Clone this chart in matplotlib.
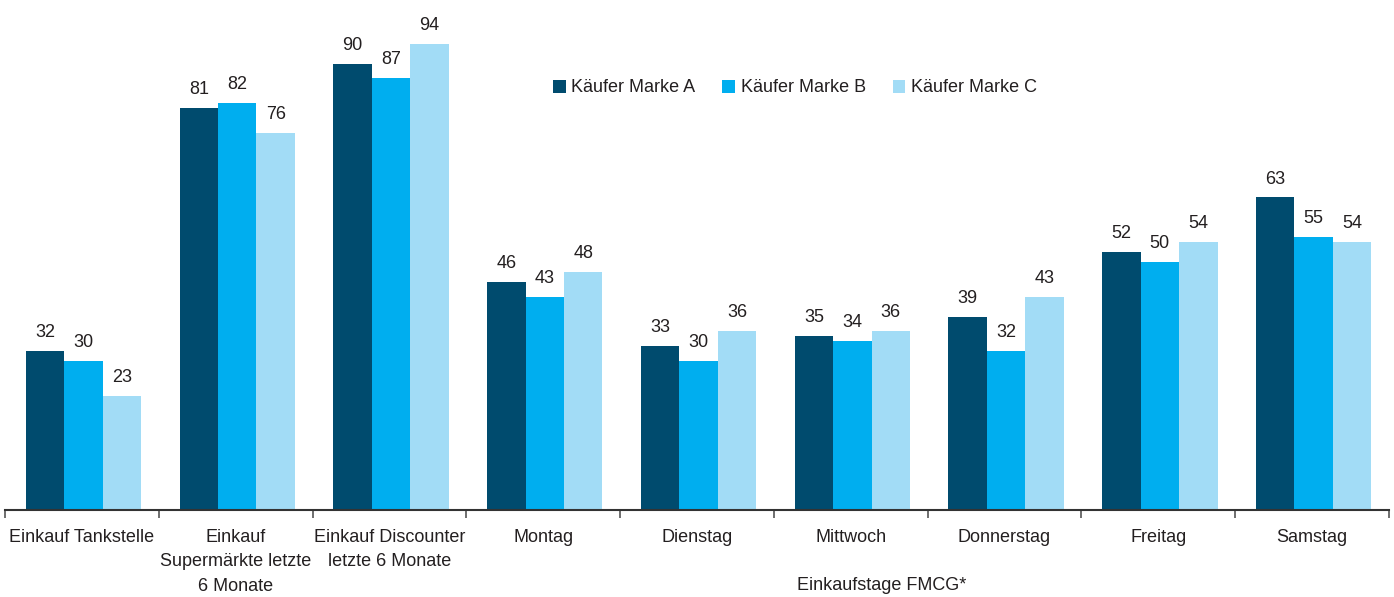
import matplotlib
matplotlib.use("Agg")
import matplotlib.pyplot as plt
import numpy as np

categories = ["Einkauf Tankstelle", "Einkauf\nSupermärkte letzte\n6 Monate",
              "Einkauf Discounter\nletzte 6 Monate", "Montag", "Dienstag",
              "Mittwoch", "Donnerstag", "Freitag", "Samstag"]
series_names = ["Käufer Marke A", "Käufer Marke B", "Käufer Marke C"]
marke_a = [32, 81, 90, 46, 33, 35, 39, 52, 63]
marke_b = [30, 82, 87, 43, 30, 34, 32, 50, 55]
marke_c = [23, 76, 94, 48, 36, 36, 43, 54, 54]
group_label = "Einkaufstage FMCG*"

colors = ["#004b6e", "#00aeef", "#a2dcf6"]
plt.rcParams['font.family'] = ['Liberation Sans Narrow', 'Liberation Sans', 'DejaVu Sans']
txt = "#231f20"

fig = plt.figure(figsize=(13.94, 5.97), dpi=100)
ax = fig.add_axes([5/1394, 87/597, 1384/1394, 510/597])

n = len(categories)
x = np.arange(n)
w = 0.25
for k, vals in enumerate([marke_a, marke_b, marke_c]):
    pos = x + (k - 1) * w + 0.01
    ax.bar(pos, vals, width=w, color=colors[k], label=series_names[k])
    for p, v in zip(pos, vals):
        ax.text(p, v + 2.0, str(v), ha="center", va="bottom", fontsize=13, color=txt)

ax.set_xlim(-0.5, n - 0.5)
ax.set_ylim(0, 102.8)
ax.set_yticks([])
for s in ["top", "right", "left"]:
    ax.spines[s].set_visible(False)
ax.spines["bottom"].set_color("#333333")
ax.spines["bottom"].set_linewidth(1.5)

ax.set_xticks(np.arange(n + 1) - 0.5)
ax.set_xticklabels([])
ax.tick_params(axis="x", length=6, width=1.2, color="#555555", direction="out")
for i, c in enumerate(categories):
    ax.text(i, -3.9, c, ha="center", va="top", fontsize=13, color=txt,
            linespacing=1.55, clip_on=False)
ax.text(5.2, -13.6, group_label, ha="center", va="top", fontsize=13, color=txt,
        clip_on=False)

leg = fig.legend(loc="center left", bbox_to_anchor=(546/1394, 1 - 88/597), ncol=3,
                 frameon=False, fontsize=13, handlelength=0.7, handleheight=0.7,
                 handletextpad=0.3, columnspacing=1.5, borderaxespad=0)
for t in leg.get_texts():
    t.set_color(txt)

fig.savefig("out.png", dpi=100)
